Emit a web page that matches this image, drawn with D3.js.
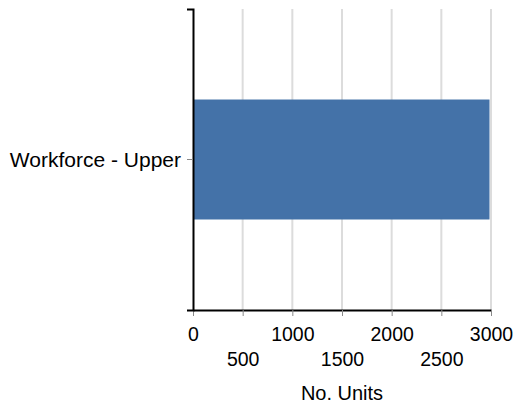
<!DOCTYPE html>
<html><head><meta charset="utf-8">
<script src="https://cdn.jsdelivr.net/npm/d3@7"></script>
<style>body{margin:0;background:#fff;} text{font-family:"Liberation Sans",Arial,sans-serif;}</style>
</head><body>
<svg id="c" width="514" height="405"></svg>
<script>
const categories = ["Workforce - Upper"];
const values = [2985];
const xTicks = [0, 500, 1000, 1500, 2000, 2500, 3000];
const xTitle = "No. Units";

const svg = d3.select("#c");
const x = d3.scaleLinear().domain([0, 3000]).range([193, 491]);
const y = d3.scaleBand().domain(categories).range([9, 310]).padding(0.43);

// gridlines
svg.append("g").selectAll("line").data(xTicks.filter(d => d > 0)).join("line")
  .attr("x1", d => x(d)).attr("x2", d => x(d))
  .attr("y1", 9).attr("y2", 310)
  .attr("stroke", "#dcdcdc").attr("stroke-width", 2);

// bars
svg.append("g").selectAll("rect").data(categories).join("rect")
  .attr("x", x(0)).attr("y", d => y(d))
  .attr("width", (d, i) => x(values[i]) - x(0))
  .attr("height", y.bandwidth())
  .attr("fill", "#4472a8");

// x axis
const xa = svg.append("g").attr("transform", "translate(0,310)")
  .call(d3.axisBottom(x).tickValues(xTicks).tickSize(6).tickSizeOuter(0).tickFormat(d3.format("d")));
xa.select(".domain").attr("stroke", "#000").attr("stroke-width", 2);
xa.selectAll(".tick line").attr("stroke", "#888");
xa.selectAll(".tick text").attr("font-size", 19.5).attr("fill", "#000")
  .attr("y", (d, i) => i % 2 === 0 ? 31 : 56).attr("dy", 0);
xa.attr("font-family", null);

// y axis
const ya = svg.append("g").attr("transform", "translate(193,0)")
  .call(d3.axisLeft(y).tickSize(6).tickSizeOuter(6));
ya.select(".domain").attr("stroke", "#000").attr("stroke-width", 2);
ya.selectAll(".tick line").attr("stroke", "#888");
ya.selectAll(".tick text").attr("font-size", 21).attr("fill", "#000").attr("x", -12)
  .attr("dy", "0.35em");
ya.attr("font-family", null);

svg.append("text").attr("x", x(1500)).attr("y", 400).attr("text-anchor", "middle")
  .attr("font-size", 20).attr("fill", "#000").text(xTitle);
</script>
</body></html>
